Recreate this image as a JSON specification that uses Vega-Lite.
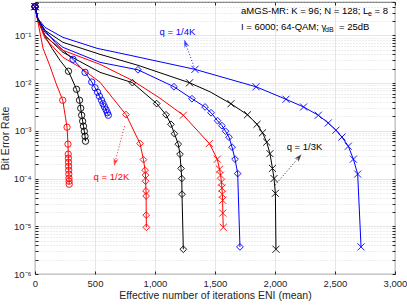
{
  "$schema": "https://vega.github.io/schema/vega-lite/v6.json",
  "width": 360,
  "height": 272,
  "autosize": "none",
  "padding": {"left": 35, "top": 2, "right": 12, "bottom": 31},
  "background": "white",
  "config": {
    "view": {"stroke": "#262626", "strokeWidth": 0.8},
    "font": "Liberation Sans",
    "axis": {"labelFont": "Liberation Sans", "titleFont": "Liberation Sans", "labelColor": "#262626", "titleColor": "#262626", "titleFontWeight": "normal", "domain": false, "tickColor": "#262626"}
  },
  "datasets": {
    "curves": [
      {"s":"RC","q":"1/2K","mk":"o","eni":0,"ber":0.4,"m":1},
      {"s":"RC","q":"1/2K","mk":"o","eni":25,"ber":0.187,"m":0},
      {"s":"RC","q":"1/2K","mk":"o","eni":67,"ber":0.0535,"m":0},
      {"s":"RC","q":"1/2K","mk":"o","eni":125,"ber":0.0225,"m":0},
      {"s":"RC","q":"1/2K","mk":"o","eni":175,"ber":0.0099,"m":0},
      {"s":"RC","q":"1/2K","mk":"o","eni":231,"ber":0.00437,"m":1},
      {"s":"RC","q":"1/2K","mk":"o","eni":267,"ber":0.00119,"m":1},
      {"s":"RC","q":"1/2K","mk":"o","eni":275,"ber":0.000525,"m":1},
      {"s":"RC","q":"1/2K","mk":"o","eni":277,"ber":0.000324,"m":1},
      {"s":"RC","q":"1/2K","mk":"o","eni":278,"ber":0.000267,"m":1},
      {"s":"RC","q":"1/2K","mk":"o","eni":279,"ber":0.00022,"m":1},
      {"s":"RC","q":"1/2K","mk":"o","eni":280,"ber":0.000182,"m":1},
      {"s":"RC","q":"1/2K","mk":"o","eni":281,"ber":0.00015,"m":1},
      {"s":"RC","q":"1/2K","mk":"o","eni":282,"ber":0.000124,"m":1},
      {"s":"RC","q":"1/2K","mk":"o","eni":283,"ber":0.000102,"m":1},
      {"s":"RC","q":"1/2K","mk":"o","eni":284,"ber":0.000088,"m":1},
      {"s":"RC","q":"1/2K","mk":"o","eni":285,"ber":0.000076,"m":1},

      {"s":"KC","q":"1/3K","mk":"o","eni":0,"ber":0.4,"m":1},
      {"s":"KC","q":"1/3K","mk":"o","eni":25,"ber":0.206,"m":0},
      {"s":"KC","q":"1/3K","mk":"o","eni":83,"ber":0.0953,"m":0},
      {"s":"KC","q":"1/3K","mk":"o","eni":142,"ber":0.0535,"m":0},
      {"s":"KC","q":"1/3K","mk":"o","eni":208,"ber":0.030,"m":0},
      {"s":"KC","q":"1/3K","mk":"o","eni":279,"ber":0.0177,"m":1},
      {"s":"KC","q":"1/3K","mk":"o","eni":346,"ber":0.00741,"m":1},
      {"s":"KC","q":"1/3K","mk":"o","eni":371,"ber":0.00437,"m":1},
      {"s":"KC","q":"1/3K","mk":"o","eni":381,"ber":0.00297,"m":1},
      {"s":"KC","q":"1/3K","mk":"o","eni":389,"ber":0.00212,"m":1},
      {"s":"KC","q":"1/3K","mk":"o","eni":397,"ber":0.00159,"m":1},
      {"s":"KC","q":"1/3K","mk":"o","eni":404,"ber":0.00125,"m":1},
      {"s":"KC","q":"1/3K","mk":"o","eni":411,"ber":0.00098,"m":1},
      {"s":"KC","q":"1/3K","mk":"o","eni":417,"ber":0.00077,"m":1},
      {"s":"KC","q":"1/3K","mk":"o","eni":421,"ber":0.000606,"m":1},

      {"s":"BC","q":"1/4K","mk":"o","eni":0,"ber":0.4,"m":1},
      {"s":"BC","q":"1/4K","mk":"o","eni":25,"ber":0.216,"m":0},
      {"s":"BC","q":"1/4K","mk":"o","eni":83,"ber":0.127,"m":0},
      {"s":"BC","q":"1/4K","mk":"o","eni":167,"ber":0.0714,"m":0},
      {"s":"BC","q":"1/4K","mk":"o","eni":233,"ber":0.0486,"m":0},
      {"s":"BC","q":"1/4K","mk":"o","eni":317,"ber":0.0315,"m":1},
      {"s":"BC","q":"1/4K","mk":"o","eni":417,"ber":0.0168,"m":1},
      {"s":"BC","q":"1/4K","mk":"o","eni":473,"ber":0.01055,"m":1},
      {"s":"BC","q":"1/4K","mk":"o","eni":500,"ber":0.00798,"m":1},
      {"s":"BC","q":"1/4K","mk":"o","eni":521,"ber":0.00643,"m":1},
      {"s":"BC","q":"1/4K","mk":"o","eni":537,"ber":0.0053,"m":1},
      {"s":"BC","q":"1/4K","mk":"o","eni":554,"ber":0.00437,"m":1},
      {"s":"BC","q":"1/4K","mk":"o","eni":567,"ber":0.00369,"m":1},
      {"s":"BC","q":"1/4K","mk":"o","eni":579,"ber":0.00319,"m":1},
      {"s":"BC","q":"1/4K","mk":"o","eni":592,"ber":0.00276,"m":1},
      {"s":"BC","q":"1/4K","mk":"o","eni":603,"ber":0.00239,"m":1},
      {"s":"BC","q":"1/4K","mk":"o","eni":611,"ber":0.00212,"m":1},

      {"s":"RD","q":"1/2K","mk":"d","eni":0,"ber":0.4,"m":1},
      {"s":"RD","q":"1/2K","mk":"d","eni":25,"ber":0.206,"m":0},
      {"s":"RD","q":"1/2K","mk":"d","eni":83,"ber":0.0866,"m":0},
      {"s":"RD","q":"1/2K","mk":"d","eni":233,"ber":0.0347,"m":0},
      {"s":"RD","q":"1/2K","mk":"d","eni":375,"ber":0.0214,"m":0},
      {"s":"RD","q":"1/2K","mk":"d","eni":542,"ber":0.0104,"m":0},
      {"s":"RD","q":"1/2K","mk":"d","eni":758,"ber":0.00219,"m":1},
      {"s":"RD","q":"1/2K","mk":"d","eni":875,"ber":0.000542,"m":1},
      {"s":"RD","q":"1/2K","mk":"d","eni":904,"ber":0.000249,"m":1},
      {"s":"RD","q":"1/2K","mk":"d","eni":917,"ber":0.00015,"m":1},
      {"s":"RD","q":"1/2K","mk":"d","eni":921,"ber":0.000118,"m":1},
      {"s":"RD","q":"1/2K","mk":"d","eni":922,"ber":0.000088,"m":1},
      {"s":"RD","q":"1/2K","mk":"d","eni":925,"ber":0.000055,"m":1},
      {"s":"RD","q":"1/2K","mk":"d","eni":926,"ber":0.000043,"m":1},
      {"s":"RD","q":"1/2K","mk":"d","eni":927,"ber":0.0000171,"m":1},
      {"s":"RD","q":"1/2K","mk":"d","eni":928,"ber":0.0000095,"m":1},

      {"s":"KD","q":"1/3K","mk":"d","eni":0,"ber":0.4,"m":1},
      {"s":"KD","q":"1/3K","mk":"d","eni":25,"ber":0.206,"m":0},
      {"s":"KD","q":"1/3K","mk":"d","eni":83,"ber":0.1,"m":0},
      {"s":"KD","q":"1/3K","mk":"d","eni":233,"ber":0.0441,"m":0},
      {"s":"KD","q":"1/3K","mk":"d","eni":542,"ber":0.0168,"m":0},
      {"s":"KD","q":"1/3K","mk":"d","eni":812,"ber":0.0102,"m":1},
      {"s":"KD","q":"1/3K","mk":"d","eni":1014,"ber":0.00372,"m":1},
      {"s":"KD","q":"1/3K","mk":"d","eni":1092,"ber":0.00217,"m":1},
      {"s":"KD","q":"1/3K","mk":"d","eni":1133,"ber":0.00137,"m":1},
      {"s":"KD","q":"1/3K","mk":"d","eni":1162,"ber":0.00087,"m":1},
      {"s":"KD","q":"1/3K","mk":"d","eni":1194,"ber":0.000525,"m":1},
      {"s":"KD","q":"1/3K","mk":"d","eni":1208,"ber":0.000324,"m":1},
      {"s":"KD","q":"1/3K","mk":"d","eni":1217,"ber":0.000163,"m":1},
      {"s":"KD","q":"1/3K","mk":"d","eni":1223,"ber":0.0001,"m":1},
      {"s":"KD","q":"1/3K","mk":"d","eni":1225,"ber":0.000047,"m":1},
      {"s":"KD","q":"1/3K","mk":"d","eni":1236,"ber":0.0000033,"m":1},

      {"s":"RX","q":"1/2K","mk":"x","eni":0,"ber":0.4,"m":1},
      {"s":"RX","q":"1/2K","mk":"x","eni":25,"ber":0.206,"m":0},
      {"s":"RX","q":"1/2K","mk":"x","eni":83,"ber":0.0953,"m":0},
      {"s":"RX","q":"1/2K","mk":"x","eni":233,"ber":0.0486,"m":0},
      {"s":"RX","q":"1/2K","mk":"x","eni":542,"ber":0.0247,"m":0},
      {"s":"RX","q":"1/2K","mk":"x","eni":792,"ber":0.012,"m":0},
      {"s":"RX","q":"1/2K","mk":"x","eni":875,"ber":0.009,"m":0},
      {"s":"RX","q":"1/2K","mk":"x","eni":1042,"ber":0.00481,"m":0},
      {"s":"RX","q":"1/2K","mk":"x","eni":1236,"ber":0.00212,"m":1},
      {"s":"RX","q":"1/2K","mk":"x","eni":1453,"ber":0.000542,"m":1},
      {"s":"RX","q":"1/2K","mk":"x","eni":1519,"ber":0.000255,"m":1},
      {"s":"RX","q":"1/2K","mk":"x","eni":1538,"ber":0.000157,"m":1},
      {"s":"RX","q":"1/2K","mk":"x","eni":1546,"ber":0.000118,"m":1},
      {"s":"RX","q":"1/2K","mk":"x","eni":1554,"ber":0.000084,"m":1},
      {"s":"RX","q":"1/2K","mk":"x","eni":1558,"ber":0.000063,"m":1},
      {"s":"RX","q":"1/2K","mk":"x","eni":1561,"ber":0.000047,"m":1},
      {"s":"RX","q":"1/2K","mk":"x","eni":1564,"ber":0.000035,"m":1},
      {"s":"RX","q":"1/2K","mk":"x","eni":1565,"ber":0.0000189,"m":1},
      {"s":"RX","q":"1/2K","mk":"x","eni":1569,"ber":0.0000095,"m":1},

      {"s":"BD","q":"1/4K","mk":"d","eni":0,"ber":0.4,"m":1},
      {"s":"BD","q":"1/4K","mk":"d","eni":25,"ber":0.216,"m":0},
      {"s":"BD","q":"1/4K","mk":"d","eni":83,"ber":0.1156,"m":0},
      {"s":"BD","q":"1/4K","mk":"d","eni":233,"ber":0.0561,"m":0},
      {"s":"BD","q":"1/4K","mk":"d","eni":542,"ber":0.0272,"m":0},
      {"s":"BD","q":"1/4K","mk":"d","eni":858,"ber":0.019,"m":1},
      {"s":"BD","q":"1/4K","mk":"d","eni":1158,"ber":0.00837,"m":1},
      {"s":"BD","q":"1/4K","mk":"d","eni":1308,"ber":0.0047,"m":1},
      {"s":"BD","q":"1/4K","mk":"d","eni":1417,"ber":0.00316,"m":1},
      {"s":"BD","q":"1/4K","mk":"d","eni":1467,"ber":0.00239,"m":1},
      {"s":"BD","q":"1/4K","mk":"d","eni":1521,"ber":0.00163,"m":1},
      {"s":"BD","q":"1/4K","mk":"d","eni":1558,"ber":0.00128,"m":1},
      {"s":"BD","q":"1/4K","mk":"d","eni":1588,"ber":0.00098,"m":1},
      {"s":"BD","q":"1/4K","mk":"d","eni":1617,"ber":0.000735,"m":1},
      {"s":"BD","q":"1/4K","mk":"d","eni":1642,"ber":0.000454,"m":1},
      {"s":"BD","q":"1/4K","mk":"d","eni":1667,"ber":0.000255,"m":1},
      {"s":"BD","q":"1/4K","mk":"d","eni":1689,"ber":0.000127,"m":1},
      {"s":"BD","q":"1/4K","mk":"d","eni":1708,"ber":0.0000037,"m":1},

      {"s":"KX","q":"1/3K","mk":"x","eni":0,"ber":0.4,"m":1},
      {"s":"KX","q":"1/3K","mk":"x","eni":25,"ber":0.22,"m":0},
      {"s":"KX","q":"1/3K","mk":"x","eni":83,"ber":0.127,"m":0},
      {"s":"KX","q":"1/3K","mk":"x","eni":233,"ber":0.0714,"m":0},
      {"s":"KX","q":"1/3K","mk":"x","eni":542,"ber":0.04,"m":0},
      {"s":"KX","q":"1/3K","mk":"x","eni":858,"ber":0.0236,"m":0},
      {"s":"KX","q":"1/3K","mk":"x","eni":1288,"ber":0.01015,"m":1},
      {"s":"KX","q":"1/3K","mk":"x","eni":1458,"ber":0.00658,"m":0},
      {"s":"KX","q":"1/3K","mk":"x","eni":1633,"ber":0.00369,"m":1},
      {"s":"KX","q":"1/3K","mk":"x","eni":1771,"ber":0.00217,"m":1},
      {"s":"KX","q":"1/3K","mk":"x","eni":1850,"ber":0.00137,"m":1},
      {"s":"KX","q":"1/3K","mk":"x","eni":1896,"ber":0.00091,"m":1},
      {"s":"KX","q":"1/3K","mk":"x","eni":1931,"ber":0.000578,"m":1},
      {"s":"KX","q":"1/3K","mk":"x","eni":1958,"ber":0.000332,"m":1},
      {"s":"KX","q":"1/3K","mk":"x","eni":1979,"ber":0.000163,"m":1},
      {"s":"KX","q":"1/3K","mk":"x","eni":1992,"ber":0.0001,"m":1},
      {"s":"KX","q":"1/3K","mk":"x","eni":2003,"ber":0.000049,"m":1},
      {"s":"KX","q":"1/3K","mk":"x","eni":2008,"ber":0.0000033,"m":1},

      {"s":"BX","q":"1/4K","mk":"x","eni":0,"ber":0.4,"m":1},
      {"s":"BX","q":"1/4K","mk":"x","eni":17,"ber":0.238,"m":0},
      {"s":"BX","q":"1/4K","mk":"x","eni":83,"ber":0.147,"m":0},
      {"s":"BX","q":"1/4K","mk":"x","eni":233,"ber":0.0908,"m":0},
      {"s":"BX","q":"1/4K","mk":"x","eni":517,"ber":0.0535,"m":0},
      {"s":"BX","q":"1/4K","mk":"x","eni":792,"ber":0.0382,"m":0},
      {"s":"BX","q":"1/4K","mk":"x","eni":1333,"ber":0.0194,"m":1},
      {"s":"BX","q":"1/4K","mk":"x","eni":1842,"ber":0.00837,"m":1},
      {"s":"BX","q":"1/4K","mk":"x","eni":2092,"ber":0.00458,"m":1},
      {"s":"BX","q":"1/4K","mk":"x","eni":2238,"ber":0.00316,"m":1},
      {"s":"BX","q":"1/4K","mk":"x","eni":2361,"ber":0.00212,"m":1},
      {"s":"BX","q":"1/4K","mk":"x","eni":2444,"ber":0.00146,"m":1},
      {"s":"BX","q":"1/4K","mk":"x","eni":2508,"ber":0.00103,"m":1},
      {"s":"BX","q":"1/4K","mk":"x","eni":2558,"ber":0.00074,"m":1},
      {"s":"BX","q":"1/4K","mk":"x","eni":2611,"ber":0.000476,"m":1},
      {"s":"BX","q":"1/4K","mk":"x","eni":2653,"ber":0.000255,"m":1},
      {"s":"BX","q":"1/4K","mk":"x","eni":2689,"ber":0.000124,"m":1},
      {"s":"BX","q":"1/4K","mk":"x","eni":2717,"ber":0.0000037,"m":1}
    ],
    "arrows": [
      {"q":"1/4K","x1":1333,"y1":0.0194,"x2":1254,"y2":0.068},
      {"q":"1/3K","x1":2000,"y1":0.0000727,"x2":2200,"y2":0.00028},
      {"q":"1/2K","x1":746,"y1":0.00125,"x2":667,"y2":0.00022}
    ]
  },
  "resolve": {"scale": {"x": "shared", "y": "shared", "color": "shared"}, "axis": {"x": "independent", "y": "independent"}},
  "layer": [
    {
      "data": {"name": "curves"},
      "mark": {"type": "line", "strokeWidth": 1, "clip": true},
      "encoding": {
        "x": {"field": "eni", "type": "quantitative", "scale": {"domain": [0, 3000], "nice": false},
          "axis": {"orient": "bottom", "values": [0, 500, 1000, 1500, 2000, 2500, 3000], "grid": true, "gridColor": "#e0e0e0", "gridWidth": 0.8, "tickSize": -3, "labelPadding": 7, "labelFontSize": 9.5, "title": "Effective number of iterations ENI (mean)", "titleFontSize": 10.5, "titlePadding": 3, "labelFlush": false}},
        "y": {"field": "ber", "type": "quantitative", "scale": {"type": "log", "domain": [0.000001, 0.5], "nice": false},
          "axis": {"orient": "left", "values": [0.000001,0.000002,0.000003,0.000004,0.000005,0.000006,0.000007,0.000008,0.000009,0.00001,0.00002,0.00003,0.00004,0.00005,0.00006,0.00007,0.00008,0.00009,0.0001,0.0002,0.0003,0.0004,0.0005,0.0006,0.0007,0.0008,0.0009,0.001,0.002,0.003,0.004,0.005,0.006,0.007,0.008,0.009,0.01,0.02,0.03,0.04,0.05,0.06,0.07,0.08,0.09,0.1,0.2,0.3,0.4,0.5],
            "grid": true,
            "gridColor": {"condition": {"test": "abs(log(datum.value)/LN10 - round(log(datum.value)/LN10)) < 0.000001", "value": "#e0e0e0"}, "value": "#d0d0d0"},
            "gridDash": {"condition": {"test": "abs(log(datum.value)/LN10 - round(log(datum.value)/LN10)) < 0.000001", "value": []}, "value": [1, 2]},
            "gridWidth": 0.8,
            "tickSize": -3,
            "labelPadding": 7,
            "labelFontSize": 9.5,
            "labelExpr": "abs(log(datum.value)/LN10 - round(log(datum.value)/LN10)) < 0.000001 ? '10⁻' + ['⁰','¹','²','³','⁴','⁵','⁶'][-round(log(datum.value)/LN10)] : ''",
            "labelOverlap": false,
            "labelFlush": false,
            "title": "Bit Error Rate", "titleFontSize": 10.5, "titlePadding": 3}},
        "color": {"field": "q", "type": "nominal", "scale": {"domain": ["1/2K", "1/3K", "1/4K"], "range": ["#ff0000", "#000000", "#0000ff"]}, "legend": null},
        "detail": {"field": "s", "type": "nominal"}
      }
    },
    {
      "data": {"name": "curves"},
      "transform": [{"filter": "datum.m == 1"}],
      "mark": {"type": "point", "filled": false, "strokeWidth": 0.9, "opacity": 1},
      "encoding": {
        "x": {"field": "eni", "type": "quantitative",
          "axis": {"orient": "top", "values": [0, 500, 1000, 1500, 2000, 2500, 3000], "grid": false, "labels": false, "tickSize": -3, "title": null}},
        "y": {"field": "ber", "type": "quantitative",
          "axis": {"orient": "right", "values": [0.000001,0.000002,0.000003,0.000004,0.000005,0.000006,0.000007,0.000008,0.000009,0.00001,0.00002,0.00003,0.00004,0.00005,0.00006,0.00007,0.00008,0.00009,0.0001,0.0002,0.0003,0.0004,0.0005,0.0006,0.0007,0.0008,0.0009,0.001,0.002,0.003,0.004,0.005,0.006,0.007,0.008,0.009,0.01,0.02,0.03,0.04,0.05,0.06,0.07,0.08,0.09,0.1,0.2,0.3,0.4,0.5], "grid": false, "labels": false, "tickSize": -3, "title": null}},
        "color": {"field": "q", "type": "nominal", "legend": null},
        "shape": {"field": "mk", "type": "nominal", "scale": {"domain": ["o", "d", "x"], "range": ["circle", "diamond", "M-1,-1L1,1M-1,1L1,-1"]}, "legend": null},
        "size": {"field": "mk", "type": "nominal", "scale": {"domain": ["o", "d", "x"], "range": [40, 50, 30]}, "legend": null}
      }
    },
    {
      "data": {"name": "arrows"},
      "mark": {"type": "rule", "strokeDash": [1, 2], "strokeWidth": 0.9},
      "encoding": {
        "x": {"field": "x1", "type": "quantitative", "axis": null},
        "y": {"field": "y1", "type": "quantitative", "axis": null},
        "x2": {"field": "x2"},
        "y2": {"field": "y2"},
        "color": {"field": "q", "type": "nominal", "legend": null}
      }
    },
    {
      "data": {"values": [{"x": 1254, "y": 0.068}]},
      "mark": {"type": "point", "shape": "M0,-1L0.65,1L0,0.45L-0.65,1Z", "filled": true, "color": "#0000ff", "size": 64, "angle": 339},
      "encoding": {"x": {"field": "x", "type": "quantitative", "axis": null}, "y": {"field": "y", "type": "quantitative", "axis": null}}
    },
    {
      "data": {"values": [{"x": 2200, "y": 0.00028}]},
      "mark": {"type": "point", "shape": "M0,-1L0.65,1L0,0.45L-0.65,1Z", "filled": true, "color": "#000000", "size": 64, "angle": 40},
      "encoding": {"x": {"field": "x", "type": "quantitative", "axis": null}, "y": {"field": "y", "type": "quantitative", "axis": null}}
    },
    {
      "data": {"values": [{"x": 667, "y": 0.00022}]},
      "mark": {"type": "point", "shape": "M0,-1L0.65,1L0,0.45L-0.65,1Z", "filled": true, "color": "#ff0000", "size": 64, "angle": 194},
      "encoding": {"x": {"field": "x", "type": "quantitative", "axis": null}, "y": {"field": "y", "type": "quantitative", "axis": null}}
    },
    {
      "data": {"values": [{"x": 1187, "y": 0.117, "t": "q = 1/4K"}]},
      "mark": {"type": "text", "color": "#0000ff", "fontSize": 9.5, "align": "center", "baseline": "middle", "font": "Liberation Sans"},
      "encoding": {"x": {"field": "x", "type": "quantitative", "axis": null}, "y": {"field": "y", "type": "quantitative", "axis": null}, "text": {"field": "t"}}
    },
    {
      "data": {"values": [{"x": 2246, "y": 0.000464, "t": "q = 1/3K"}]},
      "mark": {"type": "text", "color": "#000000", "fontSize": 9.5, "align": "center", "baseline": "middle", "font": "Liberation Sans"},
      "encoding": {"x": {"field": "x", "type": "quantitative", "axis": null}, "y": {"field": "y", "type": "quantitative", "axis": null}, "text": {"field": "t"}}
    },
    {
      "data": {"values": [{"x": 637, "y": 0.0001086, "t": "q = 1/2K"}]},
      "mark": {"type": "text", "color": "#ff0000", "fontSize": 9.5, "align": "center", "baseline": "middle", "font": "Liberation Sans"},
      "encoding": {"x": {"field": "x", "type": "quantitative", "axis": null}, "y": {"field": "y", "type": "quantitative", "axis": null}, "text": {"field": "t"}}
    },
    {
      "data": {"values": [{"x": 1717, "y": 0.318, "t": "aMGS-MR: K = 96; N = 128; L"}, {"x": 1717, "y": 0.147, "t": "I = 6000; 64-QAM; γ"}, {"x": 2830, "y": 0.318, "t": "= 8"}, {"x": 2533, "y": 0.147, "t": "= 25dB"}]},
      "mark": {"type": "text", "color": "#000000", "fontSize": 9.5, "align": "left", "baseline": "middle", "font": "Liberation Sans"},
      "encoding": {"x": {"field": "x", "type": "quantitative", "axis": null}, "y": {"field": "y", "type": "quantitative", "axis": null}, "text": {"field": "t"}}
    },
    {
      "data": {"values": [{"x": 2775, "y": 0.282, "t": "e"}, {"x": 2417, "y": 0.127, "t": "dB"}]},
      "mark": {"type": "text", "color": "#000000", "fontSize": 7, "align": "left", "baseline": "middle", "font": "Liberation Sans"},
      "encoding": {"x": {"field": "x", "type": "quantitative", "axis": null}, "y": {"field": "y", "type": "quantitative", "axis": null}, "text": {"field": "t"}}
    }
  ]
}
